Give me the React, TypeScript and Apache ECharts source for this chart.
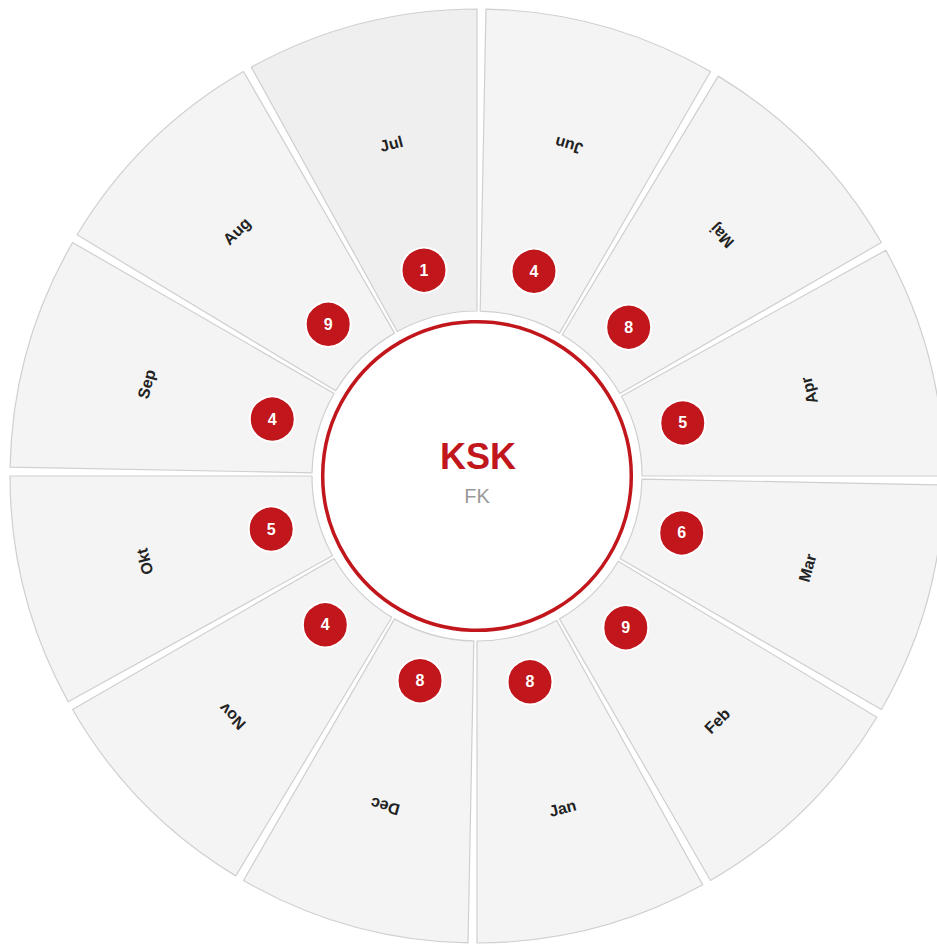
import React, { useEffect, useRef } from 'react';
import * as echarts from 'echarts';

// ---- data ----
const months = ['Jan', 'Feb', 'Mar', 'Apr', 'Maj', 'Jun', 'Jul', 'Aug', 'Sep', 'Okt', 'Nov', 'Dec'];
const counts = [8, 9, 6, 5, 8, 4, 1, 9, 4, 5, 4, 8];
const highlightedMonths = ['Jul'];
const centerTitle = 'KSK';
const centerSubtitle = 'FK';

// ---- layout / style ----
const CX = 477;
const CY = 476;
const R_IN = 165;
const R_OUT = 467;
const R_LABEL_IN = 213;
const R_BADGE = 212.5;
const START = 269.45;
const PAD = 1.1;
const RED = '#c0161c';
const FONT = '"Liberation Sans", Arial, Helvetica, sans-serif';

export default function App() {
  const ref = useRef<HTMLDivElement>(null);

  useEffect(() => {
    if (!ref.current) return;
    const chart = echarts.init(ref.current, null, { renderer: 'svg' });
    const step = 360 / months.length;

    const labelRotate = (i: number) => {
      const mid = START + step * (i + 0.5);
      const a = ((mid % 360) + 360) % 360;
      const r = a > 90 && a < 270 ? a - 90 : a + 90;
      return ((r % 360) + 360) % 360;
    };

    // pie is laid out clockwise, so feed months in reverse order
    const order = months.map((_, i) => i).reverse();

    const ringData = order.map((i) => ({
      value: 1,
      name: months[i],
      itemStyle: {
        color: highlightedMonths.includes(months[i]) ? '#efefef' : '#f4f4f4',
      },
    }));

    const labelData = order.map((i) => ({
      value: 1,
      name: months[i],
      label: { rotate: labelRotate(i) },
    }));

    const badgeData = months.map((m, i) => [R_BADGE, m, counts[i]]);

    const option: any = {
      animation: false,
      backgroundColor: '#ffffff',
      polar: { center: [CX, CY], radius: R_OUT },
      angleAxis: {
        type: 'category',
        data: months,
        startAngle: START,
        clockwise: false,
        boundaryGap: true,
        axisLine: { show: false },
        axisTick: { show: false },
        axisLabel: { show: false },
        splitLine: { show: false },
      },
      radiusAxis: {
        type: 'value',
        min: 0,
        max: R_OUT,
        axisLine: { show: false },
        axisTick: { show: false },
        axisLabel: { show: false },
        splitLine: { show: false },
      },
      series: [
        {
          type: 'pie',
          center: [CX, CY],
          radius: [R_IN, R_OUT],
          startAngle: START,
          clockwise: true,
          padAngle: PAD,
          silent: true,
          z: 1,
          label: { show: false },
          labelLine: { show: false },
          emphasis: { disabled: true },
          itemStyle: { borderColor: '#cfcfcf', borderWidth: 1.2 },
          data: ringData,
        },
        {
          type: 'pie',
          center: [CX, CY],
          radius: [R_LABEL_IN, R_OUT],
          startAngle: START,
          clockwise: true,
          silent: true,
          z: 2,
          itemStyle: { color: 'rgba(0,0,0,0)', borderWidth: 0 },
          labelLine: { show: false },
          emphasis: { disabled: true },
          label: {
            show: true,
            position: 'inside',
            formatter: '{b}',
            color: '#222222',
            fontSize: 16,
            fontWeight: 'bold',
            fontFamily: FONT,
          },
          data: labelData,
        },
        {
          type: 'scatter',
          coordinateSystem: 'polar',
          symbol: 'circle',
          symbolSize: 45,
          silent: true,
          z: 3,
          itemStyle: { color: RED, borderColor: '#ffffff', borderWidth: 2, opacity: 1 },
          emphasis: { disabled: true },
          label: {
            show: true,
            position: 'inside',
            formatter: (p: any) => String(p.value[2]),
            color: '#ffffff',
            fontSize: 16,
            fontWeight: 'bold',
            fontFamily: FONT,
          },
          data: badgeData,
        },
      ],
      graphic: [
        {
          type: 'circle',
          shape: { cx: CX, cy: CY, r: 154.3 },
          style: { fill: '#ffffff', stroke: RED, lineWidth: 3.5 },
          z: 10,
          silent: true,
        },
        {
          type: 'text',
          x: CX + 1,
          y: CY - 20,
          z: 11,
          style: {
            text: centerTitle,
            fill: RED,
            font: `bold 36px ${FONT}`,
            align: 'center',
            verticalAlign: 'middle',
          },
        },
        {
          type: 'text',
          x: CX,
          y: CY + 20,
          z: 11,
          style: {
            text: centerSubtitle,
            fill: '#999999',
            font: `20px ${FONT}`,
            align: 'center',
            verticalAlign: 'middle',
          },
        },
      ],
    };

    chart.setOption(option);
    return () => chart.dispose();
  }, []);

  return (
    <div
      ref={ref}
      style={{ position: 'fixed', left: 0, top: 0, width: 937, height: 944 }}
    />
  );
}
